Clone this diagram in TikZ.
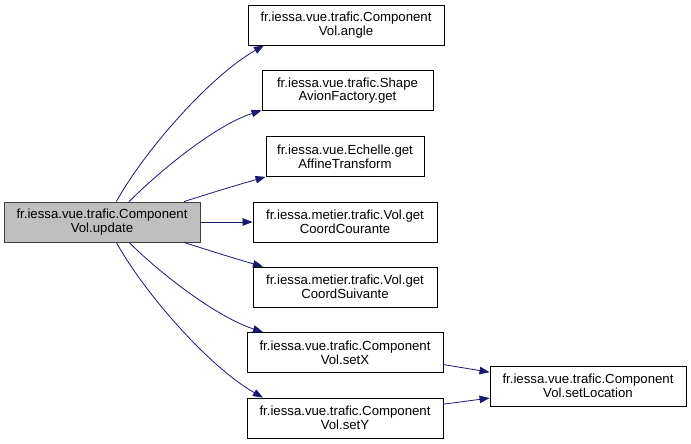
\documentclass[tikz,border=0pt]{standalone}
\usepackage{fontspec}
\setmainfont{Liberation Sans}
\usetikzlibrary{arrows.meta}
\definecolor{edgeblue}{HTML}{191970}
\definecolor{mainfill}{HTML}{BFBFBF}
\definecolor{mainborder}{HTML}{404040}
\tikzset{
  fn/.style={draw=black, line width=0.9pt, fill=white, align=center, inner sep=0pt,
    minimum height=40pt, font=\fontsize{13.2}{13.6}\selectfont},
  mainfn/.style={fn, fill=mainfill, draw=mainborder},
  call/.style={draw=edgeblue, line width=0.8pt, -{Triangle[length=10pt,width=7.5pt]}},
}
\begin{document}
\begin{tikzpicture}[x=1pt,y=-1pt]
\useasboundingbox (0,0) rectangle (691,444);
\node[mainfn, minimum width=196pt] (main) at (102,222) {fr.iessa.vue.trafic.Component\\Vol.update};
\node[fn, minimum width=196pt] (angle) at (346,25) {fr.iessa.vue.trafic.Component\\Vol.angle};
\node[fn, minimum width=171pt] (shape) at (347.5,90.5) {fr.iessa.vue.trafic.Shape\\AvionFactory.get};
\node[fn, minimum width=158pt] (echelle) at (345,156.5) {fr.iessa.vue.Echelle.get\\AffineTransform};
\node[fn, minimum width=184pt] (courante) at (345,222) {fr.iessa.metier.trafic.Vol.get\\CoordCourante};
\node[fn, minimum width=184pt] (suivante) at (345,287) {fr.iessa.metier.trafic.Vol.get\\CoordSuivante};
\node[fn, minimum width=196pt] (setx) at (345,352.5) {fr.iessa.vue.trafic.Component\\Vol.setX};
\node[fn, minimum width=196pt] (sety) at (345,418) {fr.iessa.vue.trafic.Component\\Vol.setY};
\node[fn, minimum width=196pt] (setloc) at (588,386) {fr.iessa.vue.trafic.Component\\Vol.setLocation};

\draw[call] (main.55) .. controls +(29,-52) and +(-53,30) .. (angle.194);
\draw[call] (main.37.6) .. controls +(32,-32) and +(-46,15) .. (shape.193);
\draw[call] (main.14.7) .. controls +(25,-8) and +(-25,7) .. (echelle.south west);
\draw[call] (main.east) -- (courante.west);
\draw[call] (main.-14.7) .. controls +(25,8) and +(-25,-7) .. (suivante.166);
\draw[call] (main.-37.6) .. controls +(32,32) and +(-46,-15) .. (setx.166);
\draw[call] (main.-55) .. controls +(29,52) and +(-53,-30) .. (sety.166);
\draw[call] (setx.-7.8) -- (setloc.172);
\draw[call] (sety.8.1) -- (setloc.187);
\end{tikzpicture}
\end{document}
